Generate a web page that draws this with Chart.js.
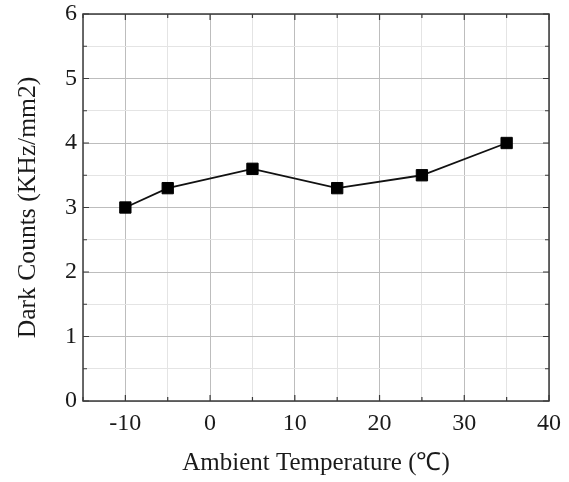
<!DOCTYPE html>
<html><head><meta charset="utf-8">
<script src="https://cdn.jsdelivr.net/npm/chart.js@4/dist/chart.umd.min.js"></script>
<style>html,body{margin:0;padding:0;background:#fff}#wrap{width:569px;height:482px}</style>
</head><body><div id="wrap"><canvas id="c" width="569" height="482"></canvas></div>
<script>
// Data
const temperatures = [-10, -5, 5, 15, 25, 35];
const darkCounts = [3.0, 3.3, 3.6, 3.3, 3.5, 4.0];
const xTickLabels = [-10, 0, 10, 20, 30, 40];
const yTickLabels = [0, 1, 2, 3, 4, 5, 6];
const xTitle = 'Ambient Temperature (\u2103)';
const yTitle = 'Dark Counts (KHz/mm2)';

const serif = '"Liberation Serif", "Times New Roman", serif';
const majorGrid = '#bdbdbd';
const minorGrid = '#e4e4e4';
const frameColor = '#3a3a3a';

const framePlugin = {
  id: 'frame',
  afterDraw(chart) {
    const { ctx, chartArea: a, scales } = chart;
    ctx.save();
    ctx.strokeStyle = frameColor;
    ctx.lineWidth = 1.5;
    ctx.strokeRect(a.left, a.top, a.right - a.left, a.bottom - a.top);
    ctx.lineWidth = 1.2;
    ctx.beginPath();
    scales.x.ticks.forEach(t => {
      const px = scales.x.getPixelForValue(t.value);
      const len = xTickLabels.includes(t.value) ? 6 : 4;
      ctx.moveTo(px, a.bottom); ctx.lineTo(px, a.bottom - len);
      ctx.moveTo(px, a.top); ctx.lineTo(px, a.top + len);
    });
    scales.y.ticks.forEach(t => {
      const py = scales.y.getPixelForValue(t.value);
      const len = yTickLabels.includes(t.value) ? 6 : 4;
      ctx.moveTo(a.left, py); ctx.lineTo(a.left + len, py);
      ctx.moveTo(a.right, py); ctx.lineTo(a.right - len, py);
    });
    ctx.stroke();
    ctx.restore();
  }
};

new Chart(document.getElementById('c'), {
  type: 'line',
  data: {
    datasets: [{
      data: temperatures.map((t, i) => ({ x: t, y: darkCounts[i] })),
      borderColor: '#111',
      backgroundColor: '#000',
      borderWidth: 1.8,
      pointStyle: 'rect',
      pointRadius: 8,
      pointBorderWidth: 1,
      pointBorderColor: '#000',
      tension: 0
    }]
  },
  options: {
    responsive: false,
    animation: false,
    devicePixelRatio: 1,
    layout: { padding: { top: 14, right: 20, left: 0, bottom: 0 } },
    plugins: { legend: { display: false }, tooltip: { enabled: false } },
    scales: {
      x: {
        type: 'linear', min: -15, max: 40,
        afterFit(s) { s.height = 81; s.paddingLeft = 0; s.paddingRight = 0; },
        ticks: {
          stepSize: 5, autoSkip: false, maxRotation: 0, padding: 8,
          color: '#1a1a1a', font: { family: serif, size: 24 },
          callback: v => xTickLabels.includes(v) ? String(v) : ''
        },
        grid: {
          drawTicks: false,
          color: c => xTickLabels.includes(c.tick && c.tick.value) ? majorGrid : minorGrid,
          lineWidth: 1
        },
        border: { display: false },
        title: {
          display: true, text: xTitle, color: '#1a1a1a',
          font: { family: serif, size: 25 }, padding: { top: 3, bottom: 4 }
        }
      },
      y: {
        min: 0, max: 6,
        afterFit(s) { s.width = 83; s.paddingTop = 0; s.paddingBottom = 0; },
        ticks: {
          stepSize: 0.5, autoSkip: false, padding: 6,
          color: '#1a1a1a', font: { family: serif, size: 24 },
          callback: v => yTickLabels.includes(v) ? String(v) : ''
        },
        grid: {
          drawTicks: false,
          color: c => yTickLabels.includes(c.tick && c.tick.value) ? majorGrid : minorGrid,
          lineWidth: 1
        },
        border: { display: false },
        title: {
          display: true, text: yTitle, color: '#1a1a1a',
          font: { family: serif, size: 25.6 }, padding: { top: 13, bottom: 0 }
        }
      }
    }
  },
  plugins: [framePlugin]
});
</script>
</body></html>
